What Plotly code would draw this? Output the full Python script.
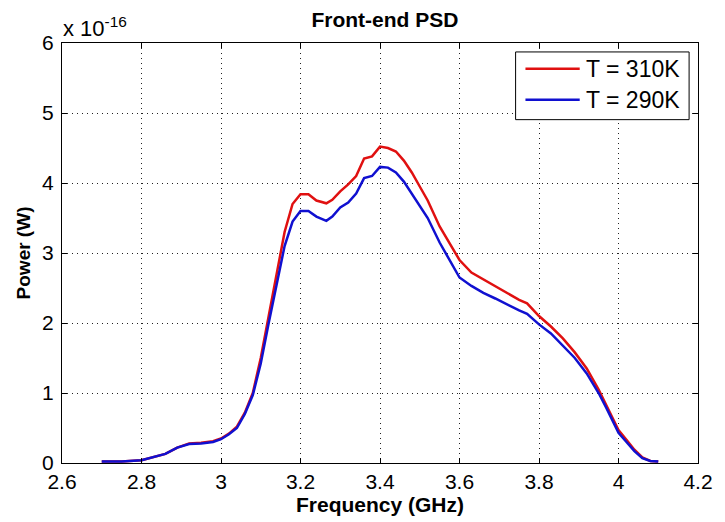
import plotly.graph_objects as go

freq_ghz = [2.70, 2.75, 2.80, 2.83, 2.86, 2.89, 2.92, 2.95, 2.98, 3.00, 3.02, 3.04, 3.06, 3.08,
            3.10, 3.12, 3.14, 3.16, 3.18, 3.20, 3.22, 3.24, 3.265, 3.28, 3.30, 3.32, 3.34, 3.36,
            3.38, 3.40, 3.42, 3.44, 3.46, 3.48, 3.50, 3.52, 3.55, 3.58, 3.60, 3.63, 3.66, 3.69,
            3.72, 3.75, 3.77, 3.80, 3.83, 3.86, 3.89, 3.92, 3.95, 3.97, 4.00, 4.02, 4.04, 4.06,
            4.08, 4.10]

power_310k = [0.02, 0.02, 0.04, 0.08, 0.13, 0.22, 0.28, 0.29, 0.31, 0.35, 0.42, 0.52, 0.72, 1.0,
              1.5, 2.1, 2.7, 3.3, 3.7, 3.84, 3.84, 3.75, 3.71, 3.76, 3.88, 3.98, 4.1, 4.35,
              4.38, 4.52, 4.5, 4.45, 4.32, 4.15, 3.95, 3.75, 3.38, 3.08, 2.9, 2.72, 2.62, 2.52,
              2.42, 2.33, 2.28, 2.1, 1.95, 1.78, 1.58, 1.35, 1.05, 0.82, 0.47, 0.33, 0.19, 0.08,
              0.03, 0.02]

power_290k = [0.02, 0.02, 0.04, 0.08, 0.13, 0.22, 0.27, 0.28, 0.30, 0.34, 0.41, 0.50, 0.70, 0.97,
              1.42, 2.0, 2.55, 3.1, 3.45, 3.6, 3.6, 3.52, 3.46, 3.52, 3.65, 3.72, 3.85, 4.07,
              4.1, 4.23, 4.22, 4.15, 4.02, 3.85, 3.68, 3.5, 3.15, 2.85, 2.65, 2.53, 2.43, 2.35,
              2.26, 2.18, 2.13, 1.98, 1.85, 1.68, 1.5, 1.28, 1.0, 0.78, 0.43, 0.30, 0.17, 0.07,
              0.03, 0.02]

series_names = ["T = 310K", "T = 290K"]
series_colors = ["#e01010", "#1010d0"]

x_ticks = [2.6, 2.8, 3.0, 3.2, 3.4, 3.6, 3.8, 4.0, 4.2]
x_tick_labels = ["2.6", "2.8", "3", "3.2", "3.4", "3.6", "3.8", "4", "4.2"]
y_ticks = [0, 1, 2, 3, 4, 5, 6]
y_tick_labels = ["0", "1", "2", "3", "4", "5", "6"]

FONT = "Liberation Sans, Arial, sans-serif"

fig = go.Figure()
for ys, name, col in zip([power_310k, power_290k], series_names, series_colors):
    fig.add_trace(go.Scatter(x=freq_ghz, y=ys, mode="lines", name=name,
                             line=dict(color=col, width=2.5)))

axis_common = dict(
    showline=True, linecolor="black", linewidth=1, mirror="ticks",
    ticks="inside", ticklen=5, tickcolor="black", tickwidth=1,
    showgrid=True, gridcolor="#222222", gridwidth=1, griddash="1px,4px",
    zeroline=False, tickfont=dict(family=FONT, size=21, color="black"),
)

# manual MATLAB-style legend (paper coordinates)
legend_box = dict(x0=0.7132, x1=0.9860, y0=0.8175, y1=0.9787)
legend_rows_y = [0.9384, 0.8649]
shapes = [dict(type="rect", xref="paper", yref="paper", line=dict(color="black", width=1),
               fillcolor="white", layer="above", **legend_box)]
annotations = []
for yy, name, col in zip(legend_rows_y, series_names, series_colors):
    shapes.append(dict(type="line", xref="paper", yref="paper", x0=0.7287, x1=0.8140,
                       y0=yy, y1=yy, line=dict(color=col, width=2.5), layer="above"))
    annotations.append(dict(text=name, xref="paper", yref="paper", x=0.8200, y=yy,
                            xanchor="left", yanchor="middle", showarrow=False,
                            font=dict(family=FONT, size=23, color="black")))

annotations.append(dict(text="x 10<sup>-16</sup>", xref="paper", yref="paper", x=-0.002, y=1.0,
                        xanchor="left", yanchor="bottom", showarrow=False, yshift=0,
                        font=dict(family=FONT, size=22, color="black")))

fig.update_layout(
    width=725, height=522,
    margin=dict(l=62, r=18, t=43, b=57),
    paper_bgcolor="white", plot_bgcolor="white",
    title=dict(text="<b>Front-end PSD</b>", x=0.531, xanchor="center", y=0.963, yanchor="middle",
               font=dict(family=FONT, size=21, color="black")),
    xaxis=dict(range=[2.6, 4.2], tickvals=x_ticks, ticktext=x_tick_labels,
               title=dict(text="<b>Frequency (GHz)</b>", font=dict(family=FONT, size=21, color="black"),
                          standoff=2),
               **axis_common),
    yaxis=dict(range=[0, 6], tickvals=y_ticks, ticktext=y_tick_labels, ticklabelstandoff=3,
               title=dict(text="<b>Power (W)</b>", font=dict(family=FONT, size=19, color="black"),
                          standoff=6),
               **axis_common),
    showlegend=False,
    shapes=shapes,
    annotations=annotations,
)

fig.write_html("out.html")
